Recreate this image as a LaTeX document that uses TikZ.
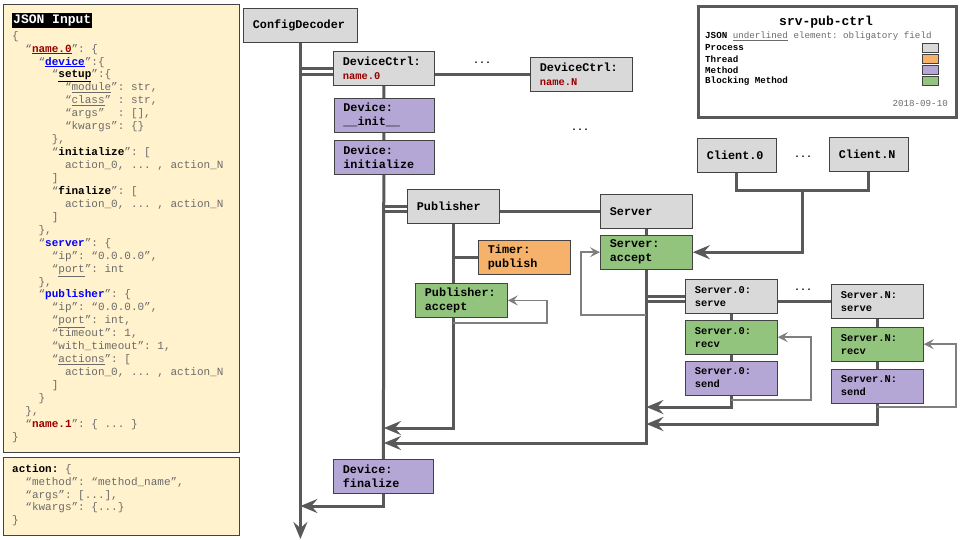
\documentclass[tikz,border=0pt]{standalone}
\usepackage{fontspec}
\setmonofont{Liberation Mono}
\usepackage{xcolor}
\usepackage{tikz}
\usetikzlibrary{arrows.meta, positioning, backgrounds, calc}
\definecolor{procfill}{HTML}{D9D9D9}
\definecolor{threadfill}{HTML}{F6B26B}
\definecolor{methfill}{HTML}{B4A7D6}
\definecolor{blockfill}{HTML}{93C47D}
\definecolor{paperfill}{HTML}{FFF2CC}
\definecolor{wirecol}{HTML}{595959}
\definecolor{loopcol}{HTML}{7F7F7F}
\definecolor{frame}{HTML}{434343}
\definecolor{keyred}{HTML}{990000}
\definecolor{keyblue}{HTML}{0000FF}
\definecolor{soft}{HTML}{6B6B6B}
\newlength\jstep
\setlength\jstep{13.2pt}
\newcommand\lv[1]{\hspace*{#1\jstep}}
\newcommand\boxfont{\ttfamily\bfseries\fontsize{11.8}{14}\selectfont}
\newcommand\srvfont{\ttfamily\bfseries\fontsize{10.4}{13}\selectfont}
\newcommand\jsonfont{\ttfamily\frenchspacing\fontsize{11}{12.94}\selectfont}
\newcommand\legfont{\ttfamily\bfseries\fontsize{9.2}{11}\selectfont}
\newcommand\jkey[1]{{\color{black}\bfseries #1}}
\newcommand\jkeyu[1]{{\color{black}\bfseries\underline{#1}}}
\newcommand\jred[1]{{\color{keyred}\bfseries #1}}
\newcommand\jredu[1]{{\color{keyred}\bfseries\underline{#1}}}
\newcommand\jblue[1]{{\color{keyblue}\bfseries #1}}
\newcommand\jblueu[1]{{\color{keyblue}\bfseries\underline{#1}}}
\newcommand\cname[1]{{\color{keyred}\fontsize{10.4}{14}\selectfont #1}}
\tikzset{
  box/.style      ={draw=frame, line width=0.8pt, fill=procfill, anchor=north west,
                    minimum height=34pt, inner xsep=9.5pt, inner ysep=2pt,
                    align=left, font=\boxfont},
  procbox/.style  ={box},
  threadbox/.style={box, fill=threadfill},
  methbox/.style  ={box, fill=methfill},
  blockbox/.style ={box, fill=blockfill},
  srvbox/.style   ={font=\srvfont, text width=73pt},
  wire/.style     ={draw=wirecol, line width=3pt},
  flow/.style     ={wire, -{Stealth[length=17pt, width=14pt, inset=6pt]}},
  loopback/.style ={draw=loopcol, line width=1.7pt,
                    -{Stealth[length=10pt, width=10pt, inset=4pt]}},
  panel/.style    ={draw=frame, line width=1.2pt, fill=paperfill, anchor=north west, inner sep=0pt},
  jsontext/.style ={anchor=north west, inner sep=0pt, align=left, font=\jsonfont, text=soft},
  dots/.style     ={font=\ttfamily\bfseries\fontsize{10}{12}\selectfont},
  legtext/.style  ={anchor=west, inner sep=0pt, font=\legfont},
  swatch/.style   ={draw=frame, line width=0.6pt, minimum width=16pt, minimum height=9pt, inner sep=0pt}
}

\begin{document}
\begin{tikzpicture}[x=1pt, y=-1pt]
  \useasboundingbox (0,0) rectangle (960,540);

  \node[panel, minimum width=236pt, minimum height=448pt] (jsonp) at (3,4) {};
  \node[anchor=north west, fill=black, text=white, inner xsep=1pt, inner ysep=1.5pt,
        font=\ttfamily\bfseries\fontsize{13}{15}\selectfont] (jtitle) at (12,13) {JSON Input};
  \node[jsontext] (jbody) at (12,31) {%
    \{\\
    \lv1“\jredu{name.0}”: \{\\
    \lv2“\jblueu{device}”:\{\\
    \lv3“\jkeyu{setup}”:\{\\
    \lv4“\underline{module}”: str,\\
    \lv4“\underline{class}” : str,\\
    \lv4“args”\ \ : [],\\
    \lv4“kwargs”: \{\}\\
    \lv3\},\\
    \lv3“\jkey{initialize}”: [\\
    \lv4action\_0, ... , action\_N\\
    \lv3]\\
    \lv3“\jkey{finalize}”: [\\
    \lv4action\_0, ... , action\_N\\
    \lv3]\\
    \lv2\},\\
    \lv2“\jblue{server}”: \{\\
    \lv3“ip”: “0.0.0.0”,\\
    \lv3“\underline{port}”: int\\
    \lv2\},\\
    \lv2“\jblue{publisher}”: \{\\
    \lv3“ip”: “0.0.0.0”,\\
    \lv3“\underline{port}”: int,\\
    \lv3“timeout”: 1,\\
    \lv3“with\_timeout”: 1,\\
    \lv3“\underline{actions}”: [\\
    \lv4action\_0, ... , action\_N\\
    \lv3]\\
    \lv2\}\\
    \lv1\},\\
    \lv1“\jred{name.1}”: \{ ... \}\\
    \}};
  \node[panel, minimum width=236pt, minimum height=78pt] (actp) at (3,457) {};
  \node[jsontext] (abody) at (12,464) {%
    \jkey{action:} \{\\
    \lv1“method”: “method\_name”,\\
    \lv1“args”: [...],\\
    \lv1“kwargs”: \{...\}\\
    \}};

  \node[procbox, text width=95pt] (cfg) at (243,8) {ConfigDecoder};
  \node[procbox, text width=82pt] (dc0) at (333,51) {DeviceCtrl:\\\cname{name.0}};
  \node[procbox, text width=83pt] (dcN) at (530,57) {DeviceCtrl:\\\cname{name.N}};
  \node[methbox, text width=81pt, below=12pt of dc0] (dinit) {Device:\\\_\_init\_\_};
  \node[methbox, text width=81pt, below=7.5pt of dinit] (dinz) {Device:\\initialize};
  \node[procbox, text width=73pt] (pub) at (407,189) {Publisher};
  \node[procbox, text width=73pt] (srv) at (600,194) {Server};
  \node[threadbox, text width=73pt] (tmr) at (478,240) {Timer:\\publish};
  \node[blockbox, text width=73pt] (pacc) at (415,283) {Publisher:\\accept};
  \node[blockbox, text width=73pt, below=6pt of srv] (sacc) {Server:\\accept};
  \node[procbox, text width=60pt] (cl0) at (697,138) {Client.0};
  \node[procbox, text width=60pt] (clN) at (829,137) {Client.N};
  \node[procbox, srvbox] (ss0) at (685,279) {Server.0:\\serve};
  \node[blockbox, srvbox, below=6pt of ss0] (rc0) {Server.0:\\recv};
  \node[methbox, srvbox, below=6pt of rc0] (sd0) {Server.0:\\send};
  \node[procbox, srvbox] (ssN) at (831,284) {Server.N:\\serve};
  \node[blockbox, srvbox, below=8pt of ssN] (rcN) {Server.N:\\recv};
  \node[methbox, srvbox, below=7pt of rcN] (sdN) {Server.N:\\send};
  \node[methbox, text width=81pt] (dfin) at (333,459) {Device:\\finalize};

  \node[dots] (dcdots)  at (482,63)  {...};
  \node[dots] (devdots) at (580,130) {...};
  \node[dots] (cldots)  at (803,157) {...};
  \node[dots] (ssdots)  at (803,290) {...};

  \node[draw=wirecol, line width=2.6pt, fill=white, anchor=north west,
        minimum width=258pt, minimum height=111pt] (legend) at (697,5) {};
  \node[font=\ttfamily\bfseries\fontsize{13}{15}\selectfont] (legtitle) at (826,22) {srv-pub-ctrl};
  \node[legtext] (legjson) at (705,36)
    {JSON {\mdseries\color{soft}\underline{underlined} element: obligatory field}};
  \foreach \lbl/\col [count=\i] in {Process/procfill, Thread/threadfill,
                                    Method/methfill, Blocking Method/blockfill} {
    \node[legtext] (leg\i) at (705,37+11*\i) {\lbl};
    \node[swatch, fill=\col] (sw\i) at (930,37+11*\i) {};
  }
  \node[legtext, anchor=east, font=\ttfamily\fontsize{9.2}{11}\selectfont, text=soft]
    (legdate) at (948,103) {2018-09-10};

  \begin{scope}[on background layer]
    \coordinate (mainend) at (cfg.south |- 0,539);
    \draw[flow] (cfg.south) -- (mainend);
    \coordinate (dc0lo) at ([yshift=-6pt]dc0.west);
    \draw[wire] (dc0.west) -- (dc0.west -| cfg.south);
    \draw[wire] (dc0lo) -- (dc0lo -| cfg.south);
    \draw[wire] (dcN.west) -- (dcN.west -| dc0.east);
    \draw[wire] (dc0.south) -- (dfin.north);
    \coordinate (publo) at ([yshift=-5.5pt]pub.west);
    \draw[wire] (pub.west) -- (pub.west -| dc0.south);
    \draw[wire] (publo) -- (publo -| dc0.south);
    \draw[wire] (srv.west) -- (srv.west -| pub.east);
    \draw[wire] (tmr.west) -- (tmr.west -| pub.south);
    \coordinate (pubret) at (dc0.south |- 0,428);
    \draw[flow] (pub.south) |- (pubret);
    \draw[loopback] (pub.south |- 0,323) -| ([xshift=39pt]pacc.east) -- (pacc.east);
    \coordinate (srvret) at (dc0.south |- 0,443);
    \draw[flow] (srv.south) |- (srvret);
    \draw[loopback] (srv.south |- 0,315) -| ([xshift=-19pt]sacc.west) -- (sacc.west);
    \draw[wire] (cl0.south) -- ++(0,18) coordinate (cljoin) -| (clN.south);
    \coordinate (clmid) at ($(cl0.south)!0.5!(clN.south)$);
    \draw[flow] (clmid |- cljoin) |- (sacc.east);
    \coordinate (ss0lo) at ([yshift=-5.5pt]ss0.west);
    \draw[wire] (ss0.west) -- (ss0.west -| srv.south);
    \draw[wire] (ss0lo) -- (ss0lo -| srv.south);
    \draw[wire] (ssN.west) -- (ssN.west -| ss0.east);
    \coordinate (s0ret) at (srv.south |- 0,407);
    \draw[flow] (ss0.south) |- (s0ret);
    \draw[loopback] (ss0.south |- 0,400) -| ([xshift=33pt]rc0.east) -- (rc0.east);
    \coordinate (sNret) at (srv.south |- 0,424);
    \draw[flow] (ssN.south) |- (sNret);
    \draw[loopback] (ssN.south |- 0,407) -| ([xshift=32pt]rcN.east) -- (rcN.east);
    \coordinate (finret) at (cfg.south |- 0,506);
    \draw[flow] (dfin.south) |- (finret);
  \end{scope}
\end{tikzpicture}
\end{document}
